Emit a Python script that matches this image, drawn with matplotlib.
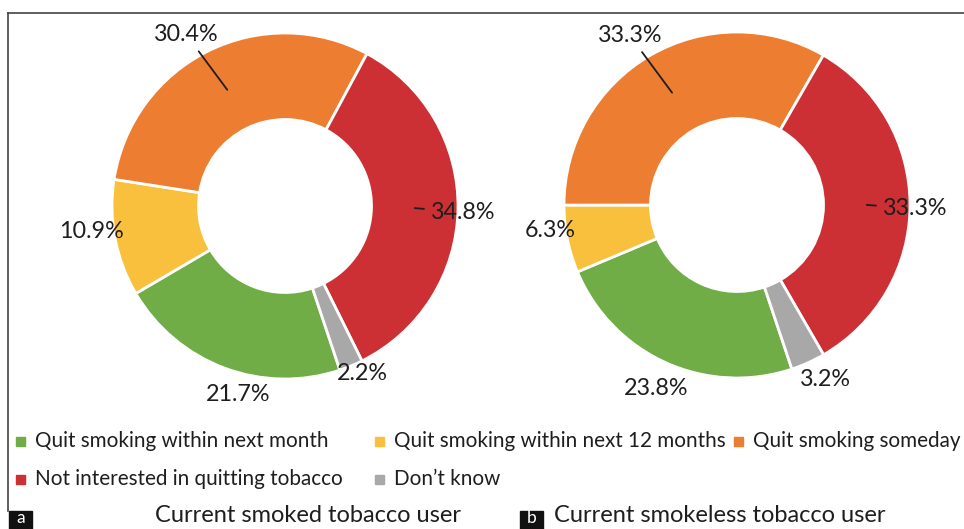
import matplotlib.pyplot as plt
from matplotlib.patches import Rectangle
from matplotlib.lines import Line2D
import numpy as np

plt.rcParams['font.family'] = ['Lato', 'DejaVu Sans']

# categories and shares (%) for the two tobacco user groups
categories = ['Quit smoking within next month', 'Quit smoking within next 12 months',
              'Quit smoking someday', 'Not interested in quitting tobacco', "Don't know"]
colors = ['#70AD47', '#F9C03D', '#ED7D31', '#CD3034', '#A8A8A8']
smoked = [21.7, 10.9, 30.4, 34.8, 2.2]
smokeless = [23.8, 6.3, 33.3, 33.3, 3.2]
titles = ['Current smoked tobacco user', 'Current smokeless tobacco user']
panel_tags = ['a', 'b']

W, H = 964, 529
TXT = '#1e1e1e'


def fx(px):
    return px / W


def fy(py):
    return 1 - py / H


fig = plt.figure(figsize=(W / 100, H / 100), dpi=100)

# label offsets (in radius units) and which labels get a leader line
label_pos = [
    [(-0.27, -1.09), (-1.12, -0.15), (-0.57, 0.99), (1.03, -0.035), (0.45, -0.97)],
    [(-0.47, -1.06), (-1.08, -0.15), (-0.62, 0.98), (1.03, -0.02), (0.51, -1.01)],
]
leader = [False, False, True, True, False]

centers = [(285, 206), (737, 205)]
R = 173
start = -71.5

for k, (vals, (cx, cy)) in enumerate(zip([smoked, smokeless], centers)):
    ax = fig.add_axes([fx(cx - R), fy(cy + R), 2 * R / W, 2 * R / H])
    wedges, _ = ax.pie(vals, colors=colors, startangle=start, counterclock=False,
                       radius=1, wedgeprops=dict(width=0.5, edgecolor='white', linewidth=2))
    ax.set_xlim(-1, 1)
    ax.set_ylim(-1, 1)
    ax.set_aspect('equal')
    ax.axis('off')

    for i, (w, v) in enumerate(zip(wedges, vals)):
        mid = np.deg2rad((w.theta1 + w.theta2) / 2)
        tx, ty = label_pos[k][i]
        props = None
        if leader[i]:
            props = dict(arrowstyle='-', color=TXT, lw=1.3, shrinkA=3, shrinkB=0)
        ax.annotate(f'{v}%', xy=(0.75 * np.cos(mid), 0.75 * np.sin(mid)),
                    xytext=(tx, ty), ha='center', va='center', fontsize=16.8,
                    color=TXT, arrowprops=props, annotation_clip=False)

# legend, laid out in three columns over two rows
legend_spots = [(16, 441), (375, 441), (734, 441), (16, 479), (375, 479)]
for (lx, ly), lab, col in zip(legend_spots, categories, colors):
    fig.patches.append(Rectangle((fx(lx), fy(ly + 4.5)), 9 / W, 9 / H,
                                 transform=fig.transFigure, color=col))
    fig.text(fx(lx + 19), fy(ly), lab.replace("'", '\u2019'), fontsize=14.9,
             color=TXT, ha='left', va='center')

# panel titles and tags
for title, tx in zip(titles, [308, 720]):
    fig.text(fx(tx), fy(515), title, fontsize=17, color=TXT, ha='center', va='center')

for tag, bx in zip(panel_tags, [9, 520]):
    fig.patches.append(Rectangle((fx(bx), fy(529)), 23 / W, 18 / H,
                                 transform=fig.transFigure, color='#111111'))
    fig.text(fx(bx + 11.5), fy(518), tag, fontsize=12.5, color='white',
             ha='center', va='center')

# thin frame around the panels
fig.lines.append(Line2D([fx(8), fx(964)], [fy(13), fy(13)], transform=fig.transFigure,
                        color='#444444', lw=1.2))
fig.lines.append(Line2D([fx(8), fx(8)], [fy(13), fy(511)], transform=fig.transFigure,
                        color='#444444', lw=1.2))

fig.savefig('out.png', dpi=100)
